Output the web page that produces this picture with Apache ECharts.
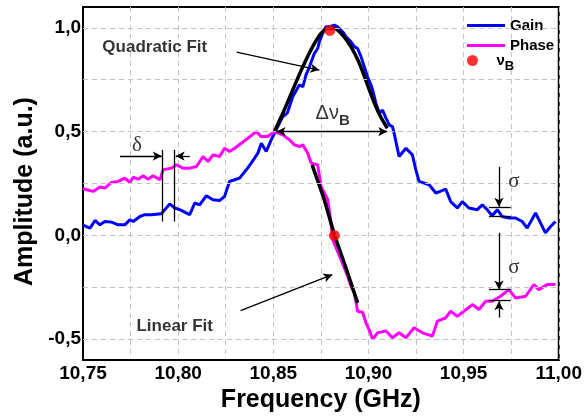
<!DOCTYPE html>
<html>
<head>
<meta charset="utf-8">
<script src="https://cdn.jsdelivr.net/npm/echarts@6/dist/echarts.min.js"></script>
<style>
  html, body { margin: 0; padding: 0; background: #fff; }
  #main { width: 585px; height: 418px; }
</style>
</head>
<body>
<div id="main"></div>
<script>
// gain curve (blue)
const gainFreq = [10.7500,10.7537,10.7563,10.7589,10.7615,10.7650,10.7685,10.7720,10.7746,10.7764,
  10.7799,10.7825,10.7860,10.7912,10.7956,10.7982,10.8008,10.8061,10.8087,10.8113,
  10.8148,10.8183,10.8218,10.8244,10.8270,10.8297,10.8323,10.8358,10.8384,10.8419,
  10.8437,10.8463,10.8489,10.8515,10.8532,10.8548,10.8574,10.8602,10.8637,10.8655,
  10.8672,10.8690,10.8716,10.8733,10.8742,10.8759,10.8777,10.8795,10.8821,10.8838,
  10.8864,10.8882,10.8908,10.8926,10.8943,10.8961,10.8978,10.8995,10.9013,10.9022,
  10.9039,10.9057,10.9074,10.9092,10.9109,10.9126,10.9135,10.9161,10.9197,10.9231,
  10.9249,10.9266,10.9319,10.9354,10.9406,10.9432,10.9467,10.9493,10.9528,10.9572,
  10.9598,10.9624,10.9650,10.9677,10.9703,10.9738,10.9773,10.9808,10.9834,10.9878,
  10.9904,10.9930,10.9957,10.9983];
const gainAmp = [0.050,0.035,0.072,0.051,0.067,0.064,0.051,0.051,0.075,0.067,
  0.091,0.100,0.100,0.104,0.152,0.132,0.124,0.100,0.156,0.147,
  0.191,0.172,0.168,0.188,0.260,0.268,0.276,0.316,0.348,0.396,
  0.444,0.404,0.460,0.508,0.540,0.570,0.590,0.668,0.725,0.716,
  0.773,0.812,0.877,0.900,0.932,0.973,1.005,1.005,1.013,1.005,
  0.981,0.957,0.932,0.909,0.900,0.861,0.813,0.764,0.725,0.700,
  0.637,0.588,0.604,0.565,0.532,0.524,0.492,0.380,0.420,0.388,
  0.316,0.260,0.244,0.204,0.223,0.163,0.132,0.163,0.132,0.124,
  0.147,0.124,0.095,0.124,0.091,0.084,0.084,0.067,0.035,0.108,
  0.060,0.012,0.043,0.067];

// phase curve (magenta)
const phaseFreq = [10.7500,10.7519,10.7554,10.7589,10.7615,10.7650,10.7685,10.7720,10.7746,10.7764,
  10.7790,10.7816,10.7842,10.7868,10.7904,10.7921,10.7965,10.7991,10.8026,10.8061,
  10.8096,10.8131,10.8157,10.8183,10.8218,10.8244,10.8270,10.8297,10.8332,10.8366,
  10.8410,10.8437,10.8471,10.8506,10.8550,10.8585,10.8611,10.8637,10.8655,10.8681,
  10.8699,10.8733,10.8751,10.8786,10.8795,10.8803,10.8812,10.8830,10.8856,10.8873,
  10.8891,10.8908,10.8926,10.8943,10.8969,10.8987,10.9004,10.9022,10.9048,10.9092,
  10.9126,10.9161,10.9197,10.9240,10.9284,10.9336,10.9362,10.9406,10.9432,10.9467,
  10.9502,10.9546,10.9581,10.9616,10.9650,10.9694,10.9738,10.9773,10.9826,10.9869,
  10.9895,10.9939,10.9983];
const phaseAmp = [0.226,0.220,0.212,0.233,0.228,0.255,0.260,0.276,0.255,0.280,
  0.271,0.287,0.271,0.287,0.268,0.316,0.324,0.340,0.324,0.324,
  0.332,0.380,0.356,0.388,0.380,0.420,0.404,0.420,0.444,0.468,
  0.500,0.476,0.476,0.500,0.484,0.460,0.436,0.428,0.436,0.396,
  0.348,0.340,0.236,0.172,0.115,0.060,-0.020,-0.060,-0.117,-0.157,
  -0.197,-0.245,-0.277,-0.365,-0.370,-0.421,-0.455,-0.500,-0.469,-0.460,
  -0.493,-0.469,-0.493,-0.445,-0.469,-0.485,-0.413,-0.397,-0.365,-0.389,
  -0.365,-0.333,-0.357,-0.317,-0.317,-0.293,-0.261,-0.301,-0.293,-0.237,
  -0.261,-0.237,-0.237];

// fits (black)
const quadFreq = [10.8506,10.8550,10.8602,10.8655,10.8707,10.8751,10.8786,10.8821,10.8864,10.8908,10.8952,10.8995,10.9030,10.9062,10.9099];
const quadAmp  = [0.500,0.588,0.700,0.812,0.909,0.973,0.997,0.997,0.965,0.909,0.829,0.725,0.640,0.575,0.516];
const linFreq = [10.8704,10.8768,10.8821,10.8882,10.8943];
const linAmp  = [0.340,0.172,0.003,-0.157,-0.325];

// Brillouin frequency markers
const markFreq = [10.8797,10.8821];
const markAmp  = [0.987,0.000];

const gridY = [-0.5,-0.25,0,0.25,0.5,0.75,1.0];
const yLabels = [-0.5,0,0.5,1.0];

const zip = (a,b) => a.map((x,i)=>[x,b[i]]);
const comma = (v,d) => v.toFixed(d).replace('.',',');
const FONT = 'Liberation Sans';

function seg(p1,p2,s1,s2){
  return [{coord:p1,symbol:s1||'none'},{coord:p2,symbol:s2||'none'}];
}

const arrows = [
  seg([10.8307,0.883],[10.8742,0.796],'none','arrow'),
  seg([10.8517,0.5],[10.9099,0.5],'arrow','arrow'),
  seg([10.7694,0.382],[10.7914,0.382],'none','arrow'),
  seg([10.8061,0.382],[10.7987,0.382],'none','arrow'),
  seg([10.7918,0.412],[10.7918,0.067]),
  seg([10.7982,0.412],[10.7982,0.067]),
  seg([10.9686,0.330],[10.9686,0.138],'none','arrow'),
  seg([10.9633,0.138],[10.9748,0.138]),
  seg([10.9633,0.090],[10.9748,0.090]),
  seg([10.9686,0.013],[10.9686,-0.261],'none','arrow'),
  seg([10.9633,-0.261],[10.9748,-0.261]),
  seg([10.9633,-0.3125],[10.9748,-0.3125]),
  seg([10.9686,-0.396],[10.9686,-0.317],'none','arrow'),
  seg([10.8328,-0.362],[10.881,-0.189],'none','arrow')
];

const texts = [
  [10.7877,0.907,'{t|Quadratic Fit}'],
  [10.7982,-0.44,'{t|Linear Fit}'],
  [10.8812,0.585,'{g|Δν}{s|B}'],
  [10.7783,0.431,'{gr|δ}'],
  [10.9764,0.258,'{gr|σ}'],
  [10.9764,-0.156,'{gr|σ}']
];

const legendText = {
  fontFamily: FONT, fontWeight: 'bold', fontSize: 15, color: '#000', lineHeight: 15,
  rich: {
    v: { fontFamily: FONT, fontWeight: 'bold', fontSize: 15, color: '#000' },
    s: { fontFamily: FONT, fontWeight: 'bold', fontSize: 13, color: '#000', padding: [12,0,0,0] }
  }
};

const chart = echarts.init(document.getElementById('main'));
chart.setOption({
  animation: false,
  backgroundColor: '#fff',
  grid: { left: 83, top: 7, right: 25, bottom: 57.5, show: true, borderColor: '#000', borderWidth: 2 },
  legend: [
    {
      data: [{ name: 'Gain', icon: 'rect' }, { name: 'Phase', icon: 'rect' }],
      orient: 'vertical', left: 462, top: 13,
      itemWidth: 38, itemHeight: 3, itemGap: 5,
      textStyle: legendText
    },
    {
      data: [{ name: 'vB', icon: 'circle' }],
      orient: 'vertical', left: 462, top: 48,
      itemWidth: 38, itemHeight: 11,
      textStyle: legendText,
      formatter: () => '{v|ν}{s|B}'
    }
  ],
  xAxis: {
    type: 'value', min: 10.75, max: 11.0, interval: 0.025,
    name: 'Frequency (GHz)', nameLocation: 'middle', nameGap: 28,
    nameTextStyle: { fontFamily: FONT, fontWeight: 'bold', fontSize: 25, color: '#000' },
    axisLine: { onZero: false, lineStyle: { color: '#000', width: 2 } },
    axisTick: { show: false },
    axisLabel: {
      margin: 4, fontFamily: FONT, fontWeight: 'bold', fontSize: 19, color: '#000',
      formatter: v => (Math.round(v*1000) % 50 === 0) ? comma(v,2) : ''
    },
    splitLine: { show: true, lineStyle: { color: '#c4c4c4', type: [5,4], width: 1 } }
  },
  yAxis: {
    type: 'value', min: -0.6, max: 1.1,
    name: 'Amplitude (a.u.)', nameLocation: 'middle', nameGap: 41,
    nameTextStyle: { fontFamily: FONT, fontWeight: 'bold', fontSize: 25, color: '#000', padding: [0,16,0,0] },
    axisLine: { onZero: false, lineStyle: { color: '#000', width: 2 } },
    axisTick: { show: false },
    axisLabel: {
      margin: 2, fontFamily: FONT, fontWeight: 'bold', fontSize: 19, color: '#000',
      customValues: yLabels,
      formatter: v => comma(v,1)
    },
    splitLine: { show: false }
  },
  series: [
    {
      name: 'gridlines', type: 'line', data: [], z: 1, silent: true,
      markLine: {
        silent: true, symbol: 'none', label: { show: false },
        lineStyle: { color: '#c4c4c4', type: [5,4], width: 1 },
        data: gridY.map(v => ({ yAxis: v }))
      }
    },
    {
      name: 'Gain', type: 'line', data: zip(gainFreq,gainAmp), z: 3,
      symbol: 'none', lineStyle: { color: '#0000ff', width: 3 }, itemStyle: { color: '#0000ff' }
    },
    {
      name: 'Phase', type: 'line', data: zip(phaseFreq,phaseAmp), z: 3,
      symbol: 'none', lineStyle: { color: '#ff00ff', width: 3 }, itemStyle: { color: '#ff00ff' }
    },
    {
      name: 'quad', type: 'line', data: zip(quadFreq,quadAmp), z: 4, smooth: 0.3,
      symbol: 'none', lineStyle: { color: '#000', width: 3.5 }
    },
    {
      name: 'lin', type: 'line', data: zip(linFreq,linAmp), z: 4,
      symbol: 'none', lineStyle: { color: '#000', width: 3.5 }
    },
    {
      name: 'vB', type: 'scatter', data: zip(markFreq,markAmp), z: 6,
      symbol: 'circle', symbolSize: 11, itemStyle: { color: '#ff0000' }
    },
    {
      name: 'annot', type: 'line', data: [], z: 5, silent: true,
      markLine: {
        silent: true, symbolSize: [7,9], label: { show: false },
        lineStyle: { color: '#000', width: 1.3, type: 'solid' },
        data: arrows
      }
    },
    {
      name: 'labels', type: 'scatter', z: 7, silent: true,
      symbolSize: 1, itemStyle: { color: 'transparent' },
      data: texts.map(t => ({ value: [t[0],t[1]], txt: t[2] })),
      label: {
        show: true, position: 'inside',
        formatter: p => p.data.txt,
        rich: {
          t: { fontFamily: FONT, fontWeight: 'bold', fontSize: 17, color: '#000' },
          g: { fontFamily: FONT, fontSize: 20, color: '#000' },
          s: { fontFamily: FONT, fontWeight: 'bold', fontSize: 15, color: '#000', padding: [14,0,0,0] },
          gr: { fontFamily: 'Liberation Serif', fontSize: 21, color: '#000' }
        }
      }
    }
  ]
});
</script>
</body>
</html>
